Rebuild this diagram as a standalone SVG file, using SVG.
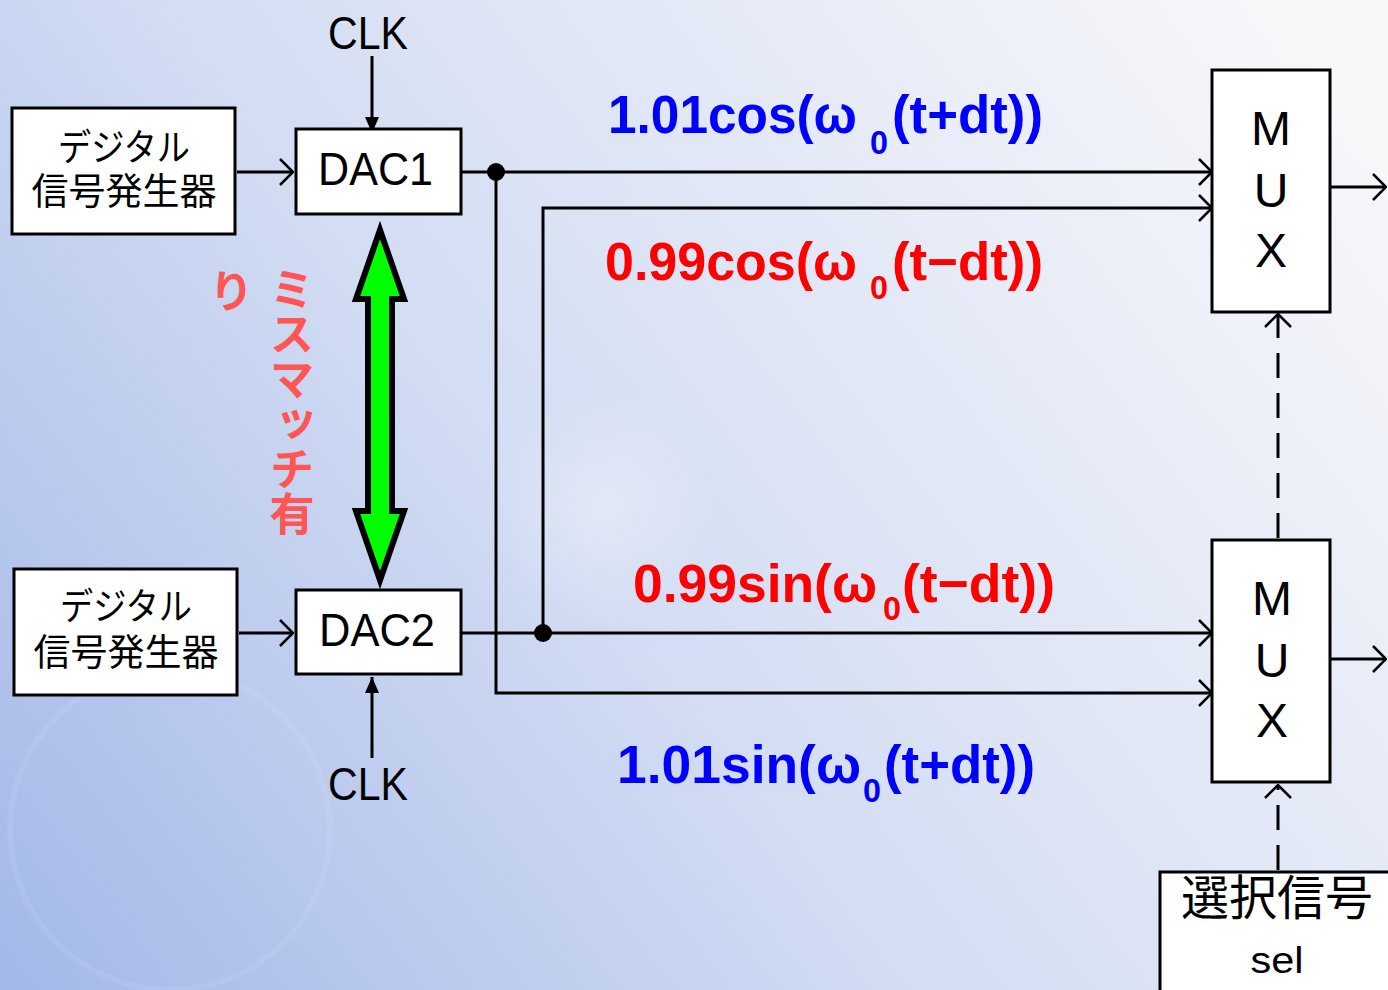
<svg xmlns="http://www.w3.org/2000/svg" width="1388" height="990" viewBox="0 0 1388 990">
<style>
.box{fill:#fff;stroke:#000;stroke-width:3}
.ln{fill:none;stroke:#000;stroke-width:3}
.dash{fill:none;stroke:#000;stroke-width:3;stroke-dasharray:25 15}
.jp{font-family:"Noto Sans CJK JP","Noto Sans",sans-serif;fill:#000}
.lt{font-family:"Liberation Sans",Arial,sans-serif;fill:#000}
.eq{font-family:"Liberation Sans",Arial,sans-serif;font-weight:bold}
.sub{font-family:"Liberation Sans",Arial,sans-serif;font-size:34px;font-weight:bold}
.blue{fill:#0000ff}
.red{fill:#ff0000}
.mis{font-family:"Noto Sans CJK JP",sans-serif;font-weight:bold;fill:#ff5555;font-size:45px}
</style>
<defs>
<linearGradient id="bg" gradientUnits="userSpaceOnUse" x1="0" y1="990" x2="1300" y2="0">
<stop offset="0" stop-color="#a3b8e8"/>
<stop offset="0.45" stop-color="#d3ddf3"/>
<stop offset="1" stop-color="#f8f8fa"/>
</linearGradient>
<radialGradient id="glow" cx="0.5" cy="0.5" r="0.5">
<stop offset="0" stop-color="#ffffff" stop-opacity="0.3"/>
<stop offset="1" stop-color="#ffffff" stop-opacity="0"/>
</radialGradient>
<marker id="open" viewBox="0 0 15 28" refX="14" refY="14" markerWidth="15" markerHeight="28" markerUnits="userSpaceOnUse" orient="auto">
<path d="M1,1 L14,14 L1,27" fill="none" stroke="#000" stroke-width="2.5" stroke-dasharray="none"/>
</marker>
<marker id="solid" viewBox="0 0 16 14" refX="16" refY="7" markerWidth="16" markerHeight="14" markerUnits="userSpaceOnUse" orient="auto">
<path d="M0,0 L16,7 L0,14 Z" fill="#000"/>
</marker>
</defs>
<rect width="1388" height="990" fill="url(#bg)"/>
<circle cx="600" cy="510" r="120" fill="url(#glow)"/>
<circle cx="170" cy="830" r="160" fill="none" stroke="#ffffff" stroke-opacity="0.08" stroke-width="6"/>

<g id="connectors">
<line class="ln" x1="372" y1="56" x2="372" y2="133" marker-end="url(#solid)"/>
<line class="ln" x1="372" y1="758" x2="372" y2="677" marker-end="url(#solid)"/>
<line class="ln" x1="237" y1="172" x2="293" y2="172" marker-end="url(#open)"/>
<line class="ln" x1="239" y1="633" x2="293" y2="633" marker-end="url(#open)"/>
<line class="ln" x1="461" y1="172" x2="1212" y2="172" marker-end="url(#open)"/>
<path class="ln" d="M496,172 V693 H1212" marker-end="url(#open)"/>
<line class="ln" x1="461" y1="633" x2="1212" y2="633" marker-end="url(#open)"/>
<path class="ln" d="M543,633 V208 H1212" marker-end="url(#open)"/>
<circle cx="496" cy="172" r="9" fill="#000"/>
<circle cx="543" cy="633" r="9" fill="#000"/>
<line class="ln" x1="1331" y1="187" x2="1386" y2="187" marker-end="url(#open)"/>
<line class="ln" x1="1331" y1="659" x2="1386" y2="659" marker-end="url(#open)"/>
<line class="dash" x1="1278" y1="538" x2="1278" y2="314" marker-end="url(#open)"/>
<line class="dash" x1="1278" y1="870" x2="1278" y2="785" marker-end="url(#open)"/>
</g>

<g id="gen1">
<rect class="box" x="12" y="108" width="223" height="126"/>
<text class="jp" font-size="37" text-anchor="middle"><tspan x="124" y="161" textLength="132" lengthAdjust="spacingAndGlyphs">デジタル</tspan><tspan x="124" y="205">信号発生器</tspan></text>
</g>
<g id="gen2">
<rect class="box" x="14" y="569" width="223" height="126"/>
<text class="jp" font-size="37" text-anchor="middle"><tspan x="126" y="620" textLength="132" lengthAdjust="spacingAndGlyphs">デジタル</tspan><tspan x="126" y="666">信号発生器</tspan></text>
</g>
<g id="clk1">
<text class="lt" x="328" y="49" font-size="46" textLength="80" lengthAdjust="spacingAndGlyphs">CLK</text>
</g>
<g id="clk2">
<text class="lt" x="328" y="800" font-size="46" textLength="80" lengthAdjust="spacingAndGlyphs">CLK</text>
</g>
<g id="dac1">
<rect class="box" x="296" y="129" width="165" height="85"/>
<text class="lt" x="318" y="185" font-size="46" textLength="115" lengthAdjust="spacingAndGlyphs">DAC1</text>
</g>
<g id="dac2">
<rect class="box" x="296" y="590" width="165" height="84"/>
<text class="lt" x="319" y="646" font-size="46" textLength="116" lengthAdjust="spacingAndGlyphs">DAC2</text>
</g>
<g id="mismatch">
<path d="M380,230 L404,299 L392,299 L392,511 L404,511 L380,580 L356,511 L368,511 L368,299 L356,299 Z" fill="#00ff00" stroke="#000" stroke-width="6" stroke-linejoin="miter" stroke-miterlimit="10"/>
<text class="mis" x="292" y="266" writing-mode="vertical-rl">ミスマッチ有</text>
<text class="mis" x="231" y="268" writing-mode="vertical-rl">り</text>
</g>
<g id="mux1">
<rect class="box" x="1212" y="70" width="118" height="242"/>
<text class="lt" x="1271" y="145" font-size="48" text-anchor="middle">M</text>
<text class="lt" x="1271" y="207" font-size="48" text-anchor="middle">U</text>
<text class="lt" x="1271" y="267" font-size="48" text-anchor="middle">X</text>
</g>
<g id="mux2">
<rect class="box" x="1212" y="540" width="118" height="242"/>
<text class="lt" x="1272" y="615" font-size="48" text-anchor="middle">M</text>
<text class="lt" x="1272" y="677" font-size="48" text-anchor="middle">U</text>
<text class="lt" x="1272" y="737" font-size="48" text-anchor="middle">X</text>
</g>
<g id="sel">
<rect class="box" x="1160" y="872" width="240" height="130"/>
<text class="jp" x="1277" y="915" font-size="48" text-anchor="middle">選択信号</text>
<text class="lt" x="1277" y="973" font-size="37" text-anchor="middle" textLength="53" lengthAdjust="spacingAndGlyphs">sel</text>
</g>
<g id="labels">
<text class="eq blue" x="608" y="133" font-size="54" textLength="249" lengthAdjust="spacingAndGlyphs">1.01cos(ω</text>
<text class="sub blue" x="870" y="154" textLength="18" lengthAdjust="spacingAndGlyphs">0</text>
<text class="eq blue" x="892" y="133" font-size="54" textLength="151" lengthAdjust="spacingAndGlyphs">(t+dt))</text>

<text class="eq red" x="605" y="280" font-size="54" textLength="252" lengthAdjust="spacingAndGlyphs">0.99cos(ω</text>
<text class="sub red" x="870" y="299" textLength="18" lengthAdjust="spacingAndGlyphs">0</text>
<text class="eq red" x="892" y="280" font-size="54" textLength="151" lengthAdjust="spacingAndGlyphs">(t−dt))</text>

<text class="eq red" x="633" y="602" font-size="54" textLength="244" lengthAdjust="spacingAndGlyphs">0.99sin(ω</text>
<text class="sub red" x="883" y="620" textLength="18" lengthAdjust="spacingAndGlyphs">0</text>
<text class="eq red" x="902" y="602" font-size="54" textLength="153" lengthAdjust="spacingAndGlyphs">(t−dt))</text>

<text class="eq blue" x="617" y="783" font-size="54" textLength="244" lengthAdjust="spacingAndGlyphs">1.01sin(ω</text>
<text class="sub blue" x="863" y="802" textLength="18" lengthAdjust="spacingAndGlyphs">0</text>
<text class="eq blue" x="884" y="783" font-size="54" textLength="151" lengthAdjust="spacingAndGlyphs">(t+dt))</text>
</g>
</svg>
